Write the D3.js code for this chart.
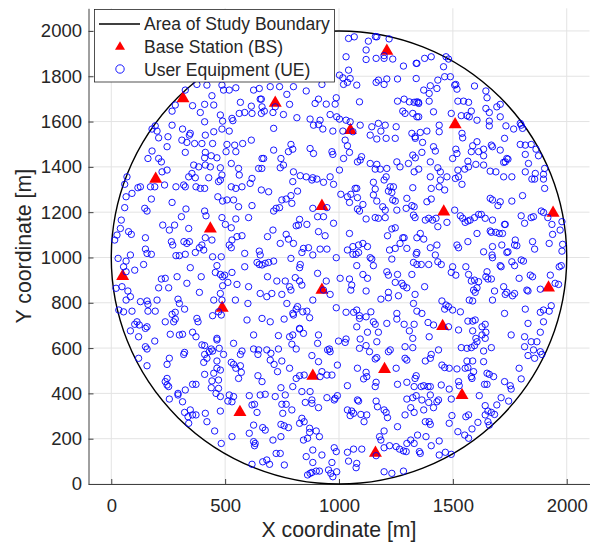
<!DOCTYPE html>
<html>
<head>
<meta charset="utf-8">
<script src="https://cdn.jsdelivr.net/npm/d3@7"></script>
<style>
body { margin: 0; background: #fff; }
text { font-family: "Liberation Sans", Arial, Helvetica, sans-serif; fill: #262626; }
</style>
</head>
<body>
<svg id="chart" width="592" height="543"></svg>
<script>

var xTicks = [0, 500, 1000, 1500, 2000];
var yTicks = [0, 200, 400, 600, 800, 1000, 1200, 1400, 1600, 1800, 2000];
var boundaryCenter = [1000, 1000];
var boundaryRadius = 1000;
var legendLabels = ['Area of Study Boundary', 'Base Station (BS)', 'User Equipment (UE)'];

// base stations
var bsX = [1210, 315, 720, 1050, 1510, 195, 925, 1460, 1940, 435, 50, 1920, 925, 487, 1455, 885, 1200, 1540, 565, 1160];
var bsY = [1920, 1710, 1690, 1570, 1595, 1355, 1235, 1210, 1205, 1135, 925, 875, 865, 785, 705, 485, 515, 400, 325, 145];

// user equipment
var ueXY = [
	[325,1739],[376,1764],[420,1761],[486,1761],[493,1739],[518,1739],[547,1749],[625,1739],[650,1746],[442,1714],
	[410,1676],[450,1673],[281,1673],[357,1670],[567,1685],[615,1668],[659,1699],[662,1665],[267,1646],[391,1640],
	[479,1629],[530,1614],[562,1636],[586,1640],[618,1636],[659,1636],[410,1599],[489,1602],[534,1604],[193,1581],
	[267,1584],[179,1567],[201,1558],[313,1567],[347,1548],[343,1540],[413,1540],[450,1555],[486,1567],[518,1558],
	[208,1528],[249,1533],[310,1518],[332,1508],[366,1503],[398,1503],[445,1503],[508,1499],[542,1496],[577,1503],
	[615,1518],[179,1470],[245,1489],[325,1464],[413,1464],[439,1449],[464,1440],[410,1440],[504,1467],[547,1467],
	[161,1437],[208,1437],[220,1422],[362,1408],[384,1400],[413,1408],[435,1400],[479,1396],[559,1393],[647,1393],
	[662,1437],[245,1386],[223,1378],[527,1415],[340,1356],[354,1371],[369,1352],[428,1352],[486,1364],[562,1364],
	[618,1349],[69,1356],
	[1042,1967],[1067,1974],[1129,1955],[1160,1975],[1166,1974],[1220,1965],[1119,1916],[1163,1879],[1198,1879],[1198,1891],
	[1236,1876],[1119,1874],[1031,1886],[1283,1845],[1339,1857],[1042,1827],[1002,1805],[1017,1793],[1049,1790],[1078,1761],
	[1037,1773],[1020,1764],[1173,1783],[1163,1773],[1198,1764],[1210,1788],[1257,1788],[1339,1790],[698,1754],[739,1754],
	[800,1754],[856,1735],[925,1764],[654,1699],[771,1720],[672,1646],[720,1665],[710,1640],[783,1676],[756,1631],
	[815,1617],[895,1680],[910,1699],[944,1677],[983,1677],[988,1705],[1090,1687],[961,1631],[990,1621],[1002,1611],
	[1031,1606],[1049,1599],[1093,1584],[1144,1577],[1173,1592],[1203,1584],[1184,1558],[1251,1577],[1257,1690],[1286,1699],
	[1309,1687],[1330,1685],[1349,1685],[1280,1646],[1290,1636],[1324,1636],[1342,1621],[873,1611],[917,1606],[910,1587],
	[929,1567],[973,1558],[888,1584],[1017,1558],[1061,1555],[1137,1540],[1166,1523],[1207,1526],[1247,1526],[1320,1548],
	[1334,1533],[713,1570],[713,1474],[789,1499],[778,1467],[797,1478],[745,1437],[669,1437],[873,1481],[888,1459],
	[969,1467],[973,1455],[1027,1518],[1037,1493],[1046,1464],[1020,1437],[1093,1430],[1081,1422],[1099,1445],[1137,1415],
	[1166,1411],[1159,1390],[1181,1390],[1210,1393],[1207,1356],[1254,1422],[1268,1400],[1305,1415],[1324,1452],[1330,1378],
	[800,1378],[830,1361],[856,1356],[885,1352],[742,1396],[756,1408],[661,1393],[961,1356],[1002,1386],
	[1342,1857],[1376,1879],[1405,1886],[1470,1886],[1481,1876],[1459,1842],[1464,1798],[1489,1798],[1434,1783],[1401,1758],
	[1372,1739],[1396,1724],[1430,1746],[1508,1761],[1513,1764],[1518,1743],[1595,1757],[1645,1735],[1650,1705],[1342,1687],
	[1350,1680],[1396,1690],[1350,1621],[1415,1643],[1522,1690],[1547,1690],[1569,1685],[1493,1636],[1537,1626],[1562,1626],
	[1572,1621],[1581,1646],[1606,1606],[1645,1658],[1660,1640],[1693,1665],[1708,1676],[1660,1602],[1660,1581],[1708,1621],
	[1733,1581],[1767,1567],[1796,1592],[1800,1584],[1806,1570],[1440,1584],[1440,1555],[1357,1552],[1386,1558],[1335,1526],
	[1367,1508],[1415,1489],[1540,1548],[1543,1528],[1606,1511],[1587,1493],[1581,1467],[1613,1467],[1635,1478],[1635,1449],
	[1669,1496],[1674,1489],[1708,1474],[1727,1526],[1513,1478],[1518,1459],[1499,1437],[1423,1470],[1364,1464],[1401,1422],
	[1335,1440],[1796,1499],[1818,1496],[1818,1455],[1844,1499],[1865,1478],[1876,1449],[1737,1437],[1730,1422],[1742,1434],
	[1723,1420],[1832,1415],[1350,1390],[1434,1396],[1445,1378],[1522,1386],[1552,1390],[1566,1425],[1569,1400],[1601,1411],
	[1635,1408],[1664,1381],[1689,1378],[1723,1356],[1759,1356],[1818,1378],[1862,1371],[1903,1393],[1898,1367],[1847,1346],
	[1511,1349],[1525,1356],[1474,1356],[1401,1356],
	[59,1323],[65,1268],[91,1283],[117,1308],[128,1312],[172,1312],[191,1312],[234,1320],[284,1312],[318,1320],
	[325,1312],[372,1312],[391,1305],[410,1305],[471,1335],[479,1342],[527,1312],[547,1305],[574,1312],[610,1327],
	[659,1298],[176,1258],[147,1217],[157,1205],[267,1243],[328,1214],[410,1205],[468,1268],[489,1249],[508,1254],
	[537,1254],[559,1224],[618,1229],[59,1220],[44,1165],[40,1128],[76,1114],[88,1102],[150,1087],[25,1099],
	[15,1077],[226,1143],[255,1121],[278,1143],[308,1180],[340,1128],[416,1184],[486,1176],[501,1146],[527,1131],
	[547,1170],[603,1176],[574,1096],[552,1092],[530,1077],[518,1055],[413,1087],[398,1055],[387,1043],[442,1077],
	[319,1070],[332,1062],[343,1070],[270,1055],[264,1070],[150,1037],[157,1018],[176,1014],[284,1008],[299,1008],
	[325,1014],[369,1022],[406,1033],[445,1003],[483,1003],[527,1043],[586,1018],[650,1028],[654,1011],[30,996],
	[65,984],[84,1011],[54,959],[65,937],[103,944],[142,969],[347,955],[464,964],[457,934],[479,925],
	[489,915],[498,922],[530,934],[640,978],[650,969],[662,967],[586,959],[220,905],[237,908],[289,915],
	[208,866],[252,866],[332,886],[387,846],[395,915],[489,875],[479,841],[512,890],[552,881],[603,871],
	[654,841],[21,864],[47,871],[73,852],[84,827],[65,812],[128,805],[157,808],[161,793],[201,812],
	[293,816],[299,797],[322,772],[450,812],[486,812],[545,812],[600,797],[33,768],[54,760],[91,763],
	[161,763],[193,763],[267,749],[281,758],[445,743],[471,760],[483,746],[376,731],[381,716],[281,728],
	[274,716],[237,716],[113,716],[103,705],[123,702],[157,694],[150,687],[596,724],[662,731],
	[797,1335],[881,1342],[903,1346],[932,1332],[976,1323],[1078,1305],[1071,1305],[1151,1332],[1198,1342],[1225,1312],
	[1239,1312],[1324,1308],[691,1290],[749,1254],[768,1258],[789,1273],[818,1293],[713,1205],[724,1217],[739,1220],
	[793,1239],[885,1217],[947,1220],[906,1180],[932,1180],[1008,1279],[1037,1268],[1046,1243],[1052,1279],[1081,1264],
	[1105,1234],[1090,1205],[1081,1214],[1159,1302],[1151,1276],[1166,1249],[1217,1293],[1232,1287],[1236,1254],[1247,1249],
	[1298,1261],[1320,1229],[1330,1224],[1295,1217],[1254,1209],[1192,1224],[1203,1209],[1327,1187],[1334,1176],[1119,1170],
	[1159,1176],[1173,1173],[1203,1176],[976,1151],[1046,1106],[939,1096],[910,1114],[812,1140],[822,1143],[859,1146],
	[827,1168],[710,1121],[686,1092],[768,1102],[778,1081],[800,1062],[742,1062],[844,1040],[837,1022],[866,1043],
	[885,1011],[917,1037],[947,1037],[676,974],[691,978],[713,984],[789,996],[830,969],[827,955],[1061,1048],
	[1086,1055],[1105,1062],[1125,1048],[1037,1033],[1061,1014],[1075,1014],[1086,1022],[1137,999],[1144,993],[1213,1096],
	[1232,1126],[1247,1131],[1280,1087],[1286,1087],[1342,1087],[1298,1040],[1247,1040],[1268,1062],[1222,1033],[1342,1022],
	[1339,1014],[1078,964],[1151,964],[1232,993],[1327,978],[1342,969],[988,999],[686,915],[727,896],[764,896],
	[789,856],[783,871],[827,896],[837,878],[808,911],[906,930],[944,896],[1005,908],[1046,905],[1056,878],
	[1052,856],[1119,852],[1105,925],[1125,908],[1210,937],[1217,922],[1257,925],[1247,890],[1276,886],[1283,875],
	[1298,866],[1320,925],[1334,837],[1261,831],[1217,846],[1342,763],[1327,797],[1184,816],[1217,822],[705,841],
	[683,827],[749,837],[771,797],[818,783],[859,763],[841,760],[812,772],[797,753],[800,746],[871,734],
	[885,812],[988,778],[1031,758],[1064,758],[1078,768],[1090,731],[1090,743],[1119,738],[1140,760],[698,716],
	[759,728],[827,687],[1078,694],[1151,716],[1159,705],[1210,709],[1254,728],[1254,753],[1286,705],[1330,705],
	[932,856],[961,837],
	[1405,1305],[1440,1312],[1464,1298],[1445,1342],[1540,1323],[1859,1346],[1898,1346],[1903,1305],[1386,1246],[1405,1258],
	[1508,1209],[1533,1184],[1543,1173],[1554,1155],[1566,1161],[1576,1165],[1595,1176],[1613,1190],[1625,1190],[1664,1261],
	[1674,1254],[1708,1246],[1698,1229],[1759,1249],[1806,1273],[1642,1173],[1674,1165],[1730,1146],[1800,1184],[1815,1151],
	[1844,1176],[1854,1180],[1888,1205],[1898,1199],[1917,1176],[1935,1146],[1938,1102],[1971,1121],[1979,1158],[1379,1165],
	[1394,1173],[1411,1165],[1426,1173],[1434,1136],[1474,1155],[1357,1106],[1372,1081],[1401,1043],[1430,1055],[1434,981],
	[1423,1011],[1518,1055],[1525,1043],[1566,1070],[1606,1106],[1664,1117],[1669,1111],[1689,1111],[1704,1106],[1718,1106],
	[1727,1146],[1774,1077],[1771,1055],[1781,1052],[1715,1055],[1674,1048],[1635,1025],[1672,1011],[1674,999],[1742,1025],
	[1737,1022],[1708,964],[1712,959],[1759,981],[1771,964],[1800,989],[1810,984],[1850,1070],[1859,1037],[1923,1062],
	[1982,1058],[1979,1028],[1361,969],[1394,969],[1449,969],[1499,959],[1493,934],[1513,922],[1557,959],[1569,925],
	[1581,896],[1595,900],[1613,893],[1591,856],[1598,846],[1606,866],[1572,812],[1587,808],[1650,937],[1645,915],
	[1654,905],[1669,905],[1683,852],[1723,871],[1737,846],[1730,837],[1771,841],[1762,831],[1840,922],[1850,915],
	[1825,856],[1830,852],[1791,908],[1884,860],[1949,886],[1964,881],[1967,959],[1976,964],[1928,922],[1376,871],
	[1452,808],[1470,790],[1481,783],[1464,772],[1499,768],[1533,760],[1566,719],[1587,719],[1598,724],[1642,705],
	[1674,812],[1727,753],[1818,772],[1884,758],[1898,768],[1923,763],[1932,787],[1898,716],[1830,709],[1364,753],
	[1391,713],[1415,702],[1481,694],[1628,694],
	[84,676],[120,650],[150,606],[157,596],[191,631],[120,555],[157,522],[259,661],[299,658],[313,661],
	[357,670],[372,650],[464,636],[464,643],[398,614],[410,611],[439,596],[430,584],[445,587],[474,599],
	[493,572],[537,621],[574,587],[567,572],[625,658],[625,596],[647,592],[644,572],[322,581],[318,572],
	[255,555],[245,528],[410,572],[420,555],[406,537],[464,543],[464,511],[479,503],[450,489],[410,484],
	[357,440],[372,440],[237,452],[245,437],[252,430],[245,466],[325,415],[293,400],[293,393],[313,363],
	[255,375],[442,455],[471,459],[471,422],[439,425],[460,400],[479,386],[527,537],[537,528],[547,511],
	[567,522],[571,493],[559,466],[644,478],[662,452],[654,393],[606,390],[618,349],[629,352],[640,316],
	[537,386],[518,393],[512,366],[530,363],[322,316],[347,327],[357,305],[337,297],[372,305],[413,312],
	[420,275],[479,322],[340,268],[454,234],[625,260],[665,249],[606,224],[530,209],[483,179],[625,187],
	[632,179],[629,169],[665,98],[618,87],
	[734,655],[783,650],[797,658],[827,684],[844,665],[910,658],[906,621],[998,631],[1031,640],[1027,625],
	[1093,640],[1125,670],[1173,670],[1166,628],[1309,676],[1324,643],[683,592],[701,577],[734,596],[793,617],
	[812,596],[698,547],[715,528],[749,543],[730,496],[783,511],[812,466],[827,478],[847,481],[881,567],
	[910,540],[958,596],[961,584],[950,592],[1090,599],[1119,611],[1134,584],[1159,552],[1166,558],[1217,584],
	[1225,592],[1290,555],[1298,547],[1324,602],[1290,606],[993,525],[1081,511],[1119,493],[1122,474],[1108,464],
	[1163,449],[1159,430],[1251,511],[1257,440],[1298,449],[1339,478],[1334,466],[1330,430],[1339,390],[1324,381],
	[925,496],[947,481],[969,481],[917,474],[797,430],[837,408],[873,408],[881,371],[881,356],[910,337],
	[852,360],[745,425],[676,396],[720,386],[764,393],[749,352],[768,352],[753,312],[793,327],[947,381],
	[979,371],[993,390],[983,378],[1037,434],[1081,371],[1086,366],[1122,305],[1096,307],[1037,327],[1056,322],
	[1064,312],[1049,302],[1110,275],[1163,366],[1169,341],[1198,327],[1207,316],[1213,293],[1257,253],[1290,305],
	[1298,375],[1315,337],[1330,316],[837,290],[827,268],[847,275],[871,246],[871,228],[900,234],[914,209],
	[862,202],[844,194],[745,263],[759,257],[778,249],[745,209],[676,238],[710,194],[724,135],[742,135],
	[683,106],[695,87],[885,150],[925,128],[969,95],[979,160],[988,143],[1037,140],[1064,154],[1100,154],
	[1042,101],[1078,91],[1075,72],[1178,209],[1184,194],[1198,234],[1222,169],[1251,165],[1266,154],[1283,146],
	[1298,179],[1315,194],[1330,179],[1295,143],[1345,216],[1353,143],[856,121],[885,95],[900,57],[914,57],
	[873,47],[862,40],[881,51],[954,62],[973,32],[964,47],[990,54],[1198,54],[1232,47],[1283,57],
	[1163,125],[1198,160],[760,84],
	[1396,650],[1525,680],[1587,676],[1645,670],[1628,658],[1642,643],[1601,643],[1606,628],[1595,611],[1537,602],
	[1562,599],[1581,602],[1669,602],[1635,587],[1756,658],[1815,650],[1844,628],[1869,628],[1884,670],[1815,606],
	[1830,567],[1854,592],[1884,584],[1891,572],[1859,555],[1405,572],[1437,592],[1401,555],[1379,543],[1452,525],
	[1464,514],[1484,511],[1518,508],[1562,543],[1587,543],[1554,511],[1566,514],[1591,496],[1635,540],[1581,474],
	[1584,466],[1650,489],[1660,484],[1679,474],[1791,511],[1800,464],[1372,434],[1361,430],[1391,430],[1401,430],
	[1449,437],[1484,419],[1525,452],[1528,434],[1616,390],[1639,440],[1650,440],[1727,452],[1752,434],[1756,419],
	[1712,381],[1745,366],[1364,371],[1401,393],[1394,360],[1415,337],[1437,371],[1430,363],[1493,375],[1372,327],
	[1569,305],[1557,297],[1496,302],[1484,268],[1379,275],[1396,275],[1401,263],[1642,346],[1654,322],[1642,305],
	[1683,307],[1669,316],[1693,349],[1610,272],[1654,275],[1660,260],[1522,231],[1552,216],[1569,202],[1584,243],
	[1382,209],[1440,190],[1405,169],[1357,135],[1440,128],[1467,140],[1493,131]
];

var svg = d3.select('#chart');

var x = d3.scaleLinear().domain([-100, 2100]).range([88.5, 589.5]);
var y = d3.scaleLinear().domain([0, 2100]).range([484, 8.3]);

// grid
var grid = svg.append('g').attr('stroke', '#e3e3e3').attr('stroke-width', 1);
grid.selectAll('line.gx')
	.data(xTicks)
	.enter()
	.append('line')
	.attr('x1', function (d) { return x(d); })
	.attr('x2', function (d) { return x(d); })
	.attr('y1', y(0))
	.attr('y2', y(2100));
grid.selectAll('line.gy')
	.data(yTicks)
	.enter()
	.append('line')
	.attr('x1', x(-100))
	.attr('x2', x(2100))
	.attr('y1', function (d) { return y(d); })
	.attr('y2', function (d) { return y(d); });

var xAxis = d3.axisBottom(x).tickValues(xTicks).tickFormat(d3.format('d')).tickSizeInner(-5).tickSizeOuter(0).tickPadding(15);
var yAxis = d3.axisLeft(y).tickValues(yTicks).tickFormat(d3.format('d')).tickSizeInner(-5).tickSizeOuter(0).tickPadding(6.5);

var gx = svg.append('g')
	.attr('transform', 'translate(0,' + y(0) + ')')
	.call(xAxis);
var gy = svg.append('g')
	.attr('transform', 'translate(' + x(-100) + ',0)')
	.call(yAxis);

[gx, gy].forEach(function (g) {
	g.selectAll('path.domain').attr('stroke', '#404040');
	g.selectAll('.tick line').attr('stroke', '#404040');
	g.selectAll('.tick text')
		.style('font-family', '"Liberation Sans", Arial, Helvetica, sans-serif')
		.style('font-size', '18.5px')
		.attr('fill', '#262626');
});

svg.append('text')
	.attr('x', (x(-100) + x(2100)) / 2)
	.attr('y', 537)
	.attr('text-anchor', 'middle')
	.style('font-size', '21.3px')
	.text('X coordinate [m]');

svg.append('text')
	.attr('transform', 'translate(31,' + (y(0) + y(2100)) / 2 + ') rotate(-90)')
	.attr('text-anchor', 'middle')
	.style('font-size', '21.3px')
	.text('Y coordinate [m]');

// study area boundary
svg.append('ellipse')
	.attr('cx', x(boundaryCenter[0]))
	.attr('cy', y(boundaryCenter[1]))
	.attr('rx', x(boundaryCenter[0] + boundaryRadius) - x(boundaryCenter[0]))
	.attr('ry', y(boundaryCenter[1] - boundaryRadius) - y(boundaryCenter[1]))
	.attr('fill', 'none')
	.attr('stroke', '#000')
	.attr('stroke-width', 1.4);

var triangle = function (cx, cy, w, h) {
	return 'M' + cx + ',' + (cy - h / 2) + 'L' + (cx + w / 2) + ',' + (cy + h / 2) + 'L' + (cx - w / 2) + ',' + (cy + h / 2) + 'Z';
};

svg.append('g').selectAll('path.bs')
	.data(bsX)
	.enter()
	.append('path')
	.attr('d', function (d, i) { return triangle(x(d), y(bsY[i]), 13, 11.3); })
	.attr('fill', '#ff0000');

svg.append('g').selectAll('circle.ue')
	.data(ueXY)
	.enter()
	.append('circle')
	.attr('cx', function (d) { return x(d[0]); })
	.attr('cy', function (d) { return y(d[1]); })
	.attr('r', 3.2)
	.attr('fill', 'none')
	.attr('stroke', '#0000ff')
	.attr('stroke-width', 0.9);

// legend
var legend = svg.append('g');
legend.append('rect')
	.attr('x', 94.5)
	.attr('y', 9.5)
	.attr('width', 240)
	.attr('height', 72.5)
	.attr('fill', '#fff')
	.attr('stroke', '#262626')
	.attr('stroke-width', 0.8);

var rowY = [24, 47, 70];
legend.append('line')
	.attr('x1', 99).attr('x2', 140)
	.attr('y1', rowY[0]).attr('y2', rowY[0])
	.attr('stroke', '#000').attr('stroke-width', 1.4);
legend.append('path')
	.attr('d', triangle(120, rowY[1] - 1.5, 10, 8.7))
	.attr('fill', '#ff0000');
legend.append('circle')
	.attr('cx', 120).attr('cy', rowY[2] - 1)
	.attr('r', 4.2)
	.attr('fill', 'none')
	.attr('stroke', '#0000ff')
	.attr('stroke-width', 0.9);

legend.selectAll('text.lab')
	.data(legendLabels)
	.enter()
	.append('text')
	.attr('x', 144)
	.attr('y', function (d, i) { return rowY[i]; })
	.attr('dy', '0.35em')
	.style('font-size', '17.5px')
	.text(function (d) { return d; });

</script>
</body>
</html>
